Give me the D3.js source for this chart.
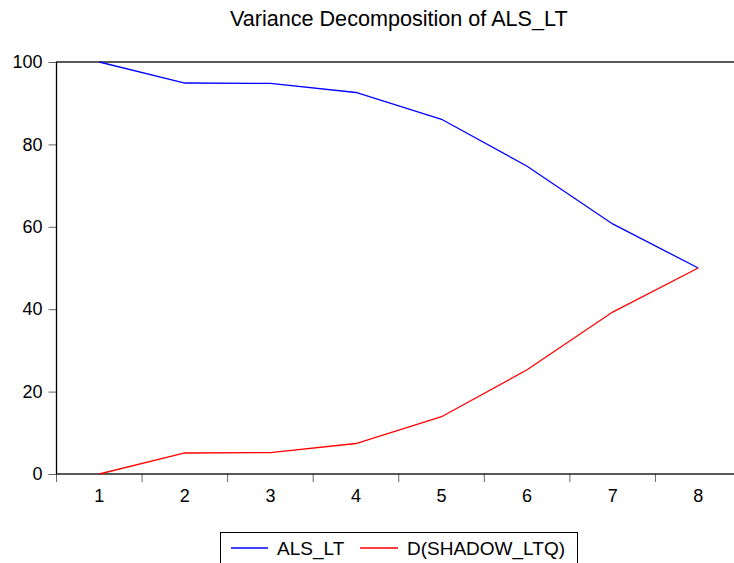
<!DOCTYPE html>
<html>
<head>
<meta charset="utf-8">
<script src="https://cdn.jsdelivr.net/npm/d3@7"></script>
<style>
body { margin: 0; background: #fff; }
svg { display: block; font-family: "Liberation Sans", Arial, sans-serif; }
</style>
</head>
<body>
<div id="chart-area"></div>
<script>
var periods = [1, 2, 3, 4, 5, 6, 7, 8];
var alsLt = [100, 94.9, 94.8, 92.6, 86.1, 74.7, 60.7, 50.0];
var shadowLtq = [0, 5.1, 5.2, 7.4, 13.9, 25.3, 39.3, 50.0];
var yTicks = [0, 20, 40, 60, 80, 100];
var seriesNames = ["ALS_LT", "D(SHADOW_LTQ)"];
var seriesColors = ["#0000ff", "#ff0000"];

var width = 734;
var height = 563;
var margin = { top: 62, right: -7, bottom: 89, left: 56.5 };

var plotW = width - margin.left - margin.right;
var plotH = height - margin.top - margin.bottom;

var svg = d3.select("#chart-area")
	.append("svg")
	.attr("width", width)
	.attr("height", height);

svg.append("text")
	.attr("x", margin.left + plotW / 2)
	.attr("y", 26)
	.attr("text-anchor", "middle")
	.attr("font-size", "21.6px")
	.attr("fill", "#000")
	.text("Variance Decomposition of ALS_LT");

var g = svg.append("g")
	.attr("transform", "translate(" + margin.left + "," + margin.top + ")");

var xScale = d3.scaleBand()
	.domain(periods)
	.range([0, plotW]);

var yScale = d3.scaleLinear()
	.domain([0, 100])
	.range([plotH, 0]);

// y axis ticks and labels
var yAxis = d3.axisLeft(yScale)
	.tickValues(yTicks)
	.tickSize(8)
	.tickPadding(6);
var yAxisG = g.append("g").call(yAxis);
yAxisG.select(".domain").remove();
yAxisG.selectAll("line").attr("stroke", "#666");
yAxisG.selectAll("text")
	.attr("font-size", "18px")
	.attr("font-family", "Liberation Sans, Arial, sans-serif")
	.attr("fill", "#000");

// x axis: labels at band centres, ticks at band boundaries
var xAxis = d3.axisBottom(xScale)
	.tickSize(0)
	.tickPadding(15);
var xAxisG = g.append("g")
	.attr("transform", "translate(0," + plotH + ")")
	.call(xAxis);
xAxisG.select(".domain").remove();
xAxisG.selectAll("text")
	.attr("font-size", "18px")
	.attr("font-family", "Liberation Sans, Arial, sans-serif")
	.attr("fill", "#000");

g.selectAll(".xtick")
	.data(periods)
	.enter().append("line")
	.attr("class", "xtick")
	.attr("x1", d => xScale(d))
	.attr("x2", d => xScale(d))
	.attr("y1", plotH)
	.attr("y2", plotH + 8)
	.attr("stroke", "#666");

// frame
g.append("rect")
	.attr("x", 0)
	.attr("y", 0)
	.attr("width", plotW)
	.attr("height", plotH)
	.attr("fill", "none")
	.attr("stroke", "#000")
	.attr("stroke-width", 1.3);

var line = d3.line()
	.x((d, i) => xScale(periods[i]) + xScale.bandwidth() / 2)
	.y(d => yScale(d));

[alsLt, shadowLtq].forEach(function (values, i) {
	g.append("path")
		.datum(values)
		.attr("d", line)
		.attr("fill", "none")
		.attr("stroke", seriesColors[i])
		.attr("stroke-width", 1.3);
});

// legend
var legend = svg.append("g");
legend.append("rect")
	.attr("x", 220.5)
	.attr("y", 532.5)
	.attr("width", 357)
	.attr("height", 31)
	.attr("fill", "#fff")
	.attr("stroke", "#000")
	.attr("stroke-width", 1);

var legendItems = [
	{ x1: 231, x2: 268, tx: 277 },
	{ x1: 360, x2: 398, tx: 407 }
];
legendItems.forEach(function (it, i) {
	legend.append("line")
		.attr("x1", it.x1)
		.attr("x2", it.x2)
		.attr("y1", 548)
		.attr("y2", 548)
		.attr("stroke", seriesColors[i])
		.attr("stroke-width", 1.3);
	legend.append("text")
		.attr("x", it.tx)
		.attr("y", 555)
		.attr("font-size", "19px")
		.attr("fill", "#000")
		.text(seriesNames[i]);
});
</script>
</body>
</html>
